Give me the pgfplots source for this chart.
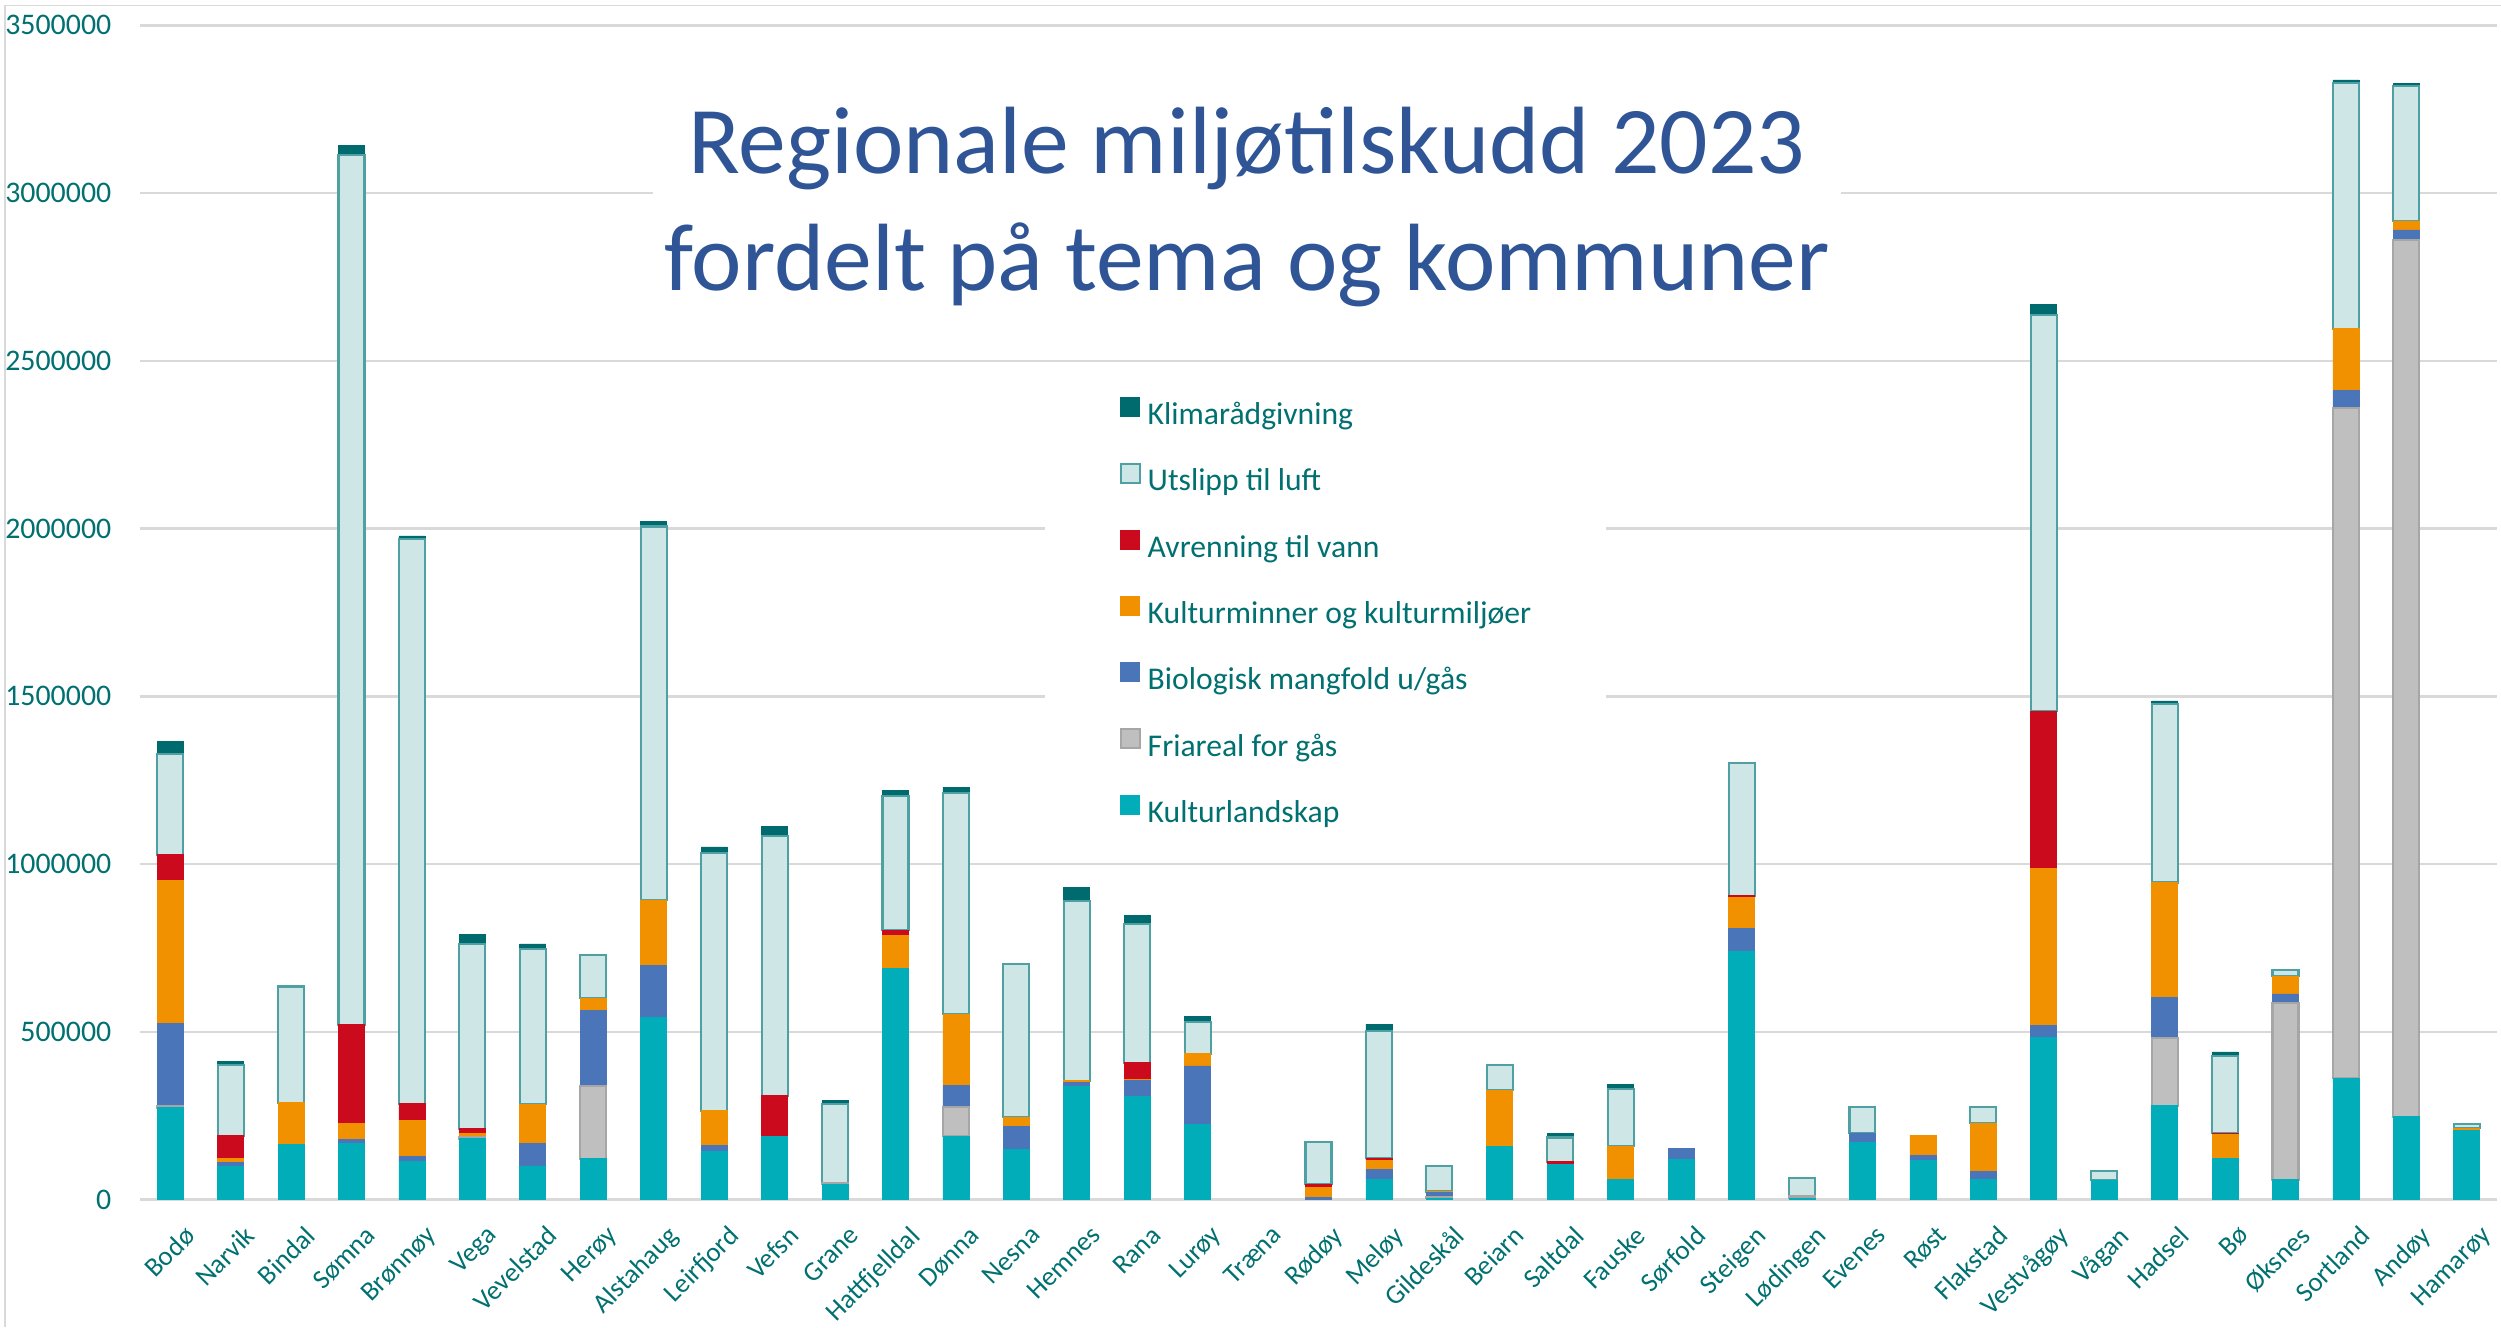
\documentclass[border=0pt]{standalone}
\usepackage{pgfplots}
\pgfplotsset{compat=1.18}
\usepackage{pgfplotstable}
\usepackage{fontspec}
\setmainfont{Carlito}
\definecolor{cKl}{RGB}{0,173,185}
\definecolor{cFr}{RGB}{191,191,191}
\definecolor{cFrD}{RGB}{166,166,166}
\definecolor{cBio}{RGB}{74,117,184}
\definecolor{cKm}{RGB}{242,145,0}
\definecolor{cAv}{RGB}{204,10,30}
\definecolor{cUt}{RGB}{207,230,230}
\definecolor{cUtD}{RGB}{79,160,163}
\definecolor{cKli}{RGB}{0,107,111}
\definecolor{tickc}{RGB}{0,112,112}
\definecolor{titlec}{RGB}{47,85,151}
\definecolor{gridc}{RGB}{217,217,217}

% x kl=Kulturlandskap fr=Friareal bio=Biologisk km=Kulturminner av=Avrenning ut=Utslipp kli=Klima
\pgfplotstableread{
x kl fr bio km av ut kli
0 274000 5000 247000 424000 78000 301000 36000
1 99000 0 12000 12000 67000 211000 10000
2 164000 0 0 125000 0 346000 0
3 166000 0 13000 48000 294000 2592000 28000
4 113000 0 15000 108000 50000 1684000 8000
5 181000 6000 0 10000 14000 550000 30000
6 100000 0 67000 117000 0 463000 15000
7 122000 216000 226000 36000 0 128000 0
8 542000 0 157000 194000 0 1113000 14000
9 143000 0 18000 104000 0 767000 19000
10 188000 0 0 0 121000 775000 27000
11 45000 5000 0 0 0 236000 10000
12 690000 0 0 98000 15000 399000 17000
13 189000 87000 64000 212000 0 659000 17000
14 150000 0 68000 27000 0 456000 0
15 338000 0 10000 6000 0 537000 39000
16 308000 0 46000 3000 51000 414000 24000
17 225000 0 173000 37000 0 93000 19000
18 0 0 0 0 0 0 0
19 0 0 6000 31000 8000 126000 0
20 59000 0 31000 27000 6000 379000 21000
21 4000 3000 14000 3000 0 77000 0
22 158000 0 0 168000 0 75000 0
23 104000 0 0 0 9000 72000 13000
24 59000 0 0 100000 0 170000 14000
25 119000 0 34000 0 0 0 0
26 741000 0 68000 91000 6000 395000 0
27 4000 6000 0 0 0 55000 0
28 170000 0 27000 0 0 78000 0
29 117000 0 15000 60000 0 0 0
30 60000 0 23000 145000 0 49000 0
31 482000 0 37000 467000 469000 1182000 32000
32 58000 0 0 0 0 26000 0
33 280000 202000 120000 343000 0 533000 8000
34 122000 0 0 71000 4000 231000 12000
35 59000 528000 26000 53000 0 18000 0
36 361000 1998000 53000 184000 0 733000 8000
37 247000 2614000 29000 27000 0 401000 8000
38 207000 0 0 6000 0 12000 0
}\data

\begin{document}
\begin{tikzpicture}
\path[use as bounding box] (0,0) rectangle (25.01cm,13.27cm);
\draw[gridc, line width=0.5pt] (0.05cm,0) -- (0.05cm,13.215cm) -- (25.01cm,13.215cm);
\begin{axis}[
  at={(1.40cm,1.275cm)}, anchor=south west,
  scale only axis, width=23.57cm, height=11.742cm,
  xmin=-0.5, xmax=38.5, ymin=0, ymax=3500000,
  ybar stacked, bar width=0.43,
  axis line style={draw=none},
  major tick length=0pt,
  ymajorgrids, grid style={gridc, line width=0.7pt},
  ytick={0,500000,1000000,1500000,2000000,2500000,3000000,3500000},
  yticklabels={0,500000,1000000,1500000,2000000,2500000,3000000,3500000},
  yticklabel style={anchor=east, inner sep=0pt, xshift=-0.28cm, text=tickc, font=\fontsize{8.5}{10}\selectfont},
  xtick={0,...,38},
  xticklabels={Bodø,Narvik,Bindal,Sømna,Brønnøy,Vega,Vevelstad,Herøy,Alstahaug,Leirfjord,Vefsn,Grane,Hattfjelldal,Dønna,Nesna,Hemnes,Rana,Lurøy,Træna,Rødøy,Meløy,Gildeskål,Beiarn,Saltdal,Fauske,Sørfold,Steigen,Lødingen,Evenes,Røst,Flakstad,Vestvågøy,Vågan,Hadsel,Bø,Øksnes,Sortland,Andøy,Hamarøy},
  xticklabel style={rotate=45, anchor=north east, inner sep=0pt, xshift=-0.08cm, yshift=-0.26cm, text=tickc, font=\fontsize{7.7}{9}\selectfont},
  reverse legend,
  legend cell align=left,
  legend image code/.code={\draw[#1] (0cm,0cm) rectangle (0.19cm,0.19cm);},
  legend style={at={(axis description cs:0.3835,0.6996)}, anchor=north west,
    draw=none, fill=white, inner xsep=0.75cm, inner ysep=0.18cm,
    row sep=0.328cm, text=tickc,
    font=\fontsize{9}{10}\selectfont,
    nodes={inner sep=0pt, text height=0.22cm, text depth=0.06cm},
    /tikz/every odd column/.append style={column sep=0.07cm}},
]
\addplot[fill=cKl, draw=cKl, line width=0.2pt] table[x=x,y=kl]{\data};
\addplot[fill=cFr, draw=cFrD, line width=0.6pt] table[x=x,y=fr]{\data};
\addplot[fill=cBio, draw=cBio, line width=0.2pt] table[x=x,y=bio]{\data};
\addplot[fill=cKm, draw=cKm, line width=0.2pt] table[x=x,y=km]{\data};
\addplot[fill=cAv, draw=cAv, line width=0.2pt] table[x=x,y=av]{\data};
\addplot[fill=cUt, draw=cUtD, line width=0.6pt] table[x=x,y=ut]{\data};
\addplot[fill=cKli, draw=cKli, line width=0.2pt] table[x=x,y=kli]{\data};
\legend{Kulturlandskap,Friareal for gås,Biologisk mangfold u/gås,Kulturminner og kulturmiljøer,Avrenning til vann,Utslipp til luft,Klimarådgivning}
\node[fill=white, text=titlec, align=center, inner xsep=0.12cm, inner ysep=0.06cm,
  font=\fontsize{27.2}{33.3}\selectfont] at (axis description cs:0.4697,0.8453)
  {Regionale miljøtilskudd 2023\\fordelt på tema og kommuner};
\end{axis}
\end{tikzpicture}
\end{document}
